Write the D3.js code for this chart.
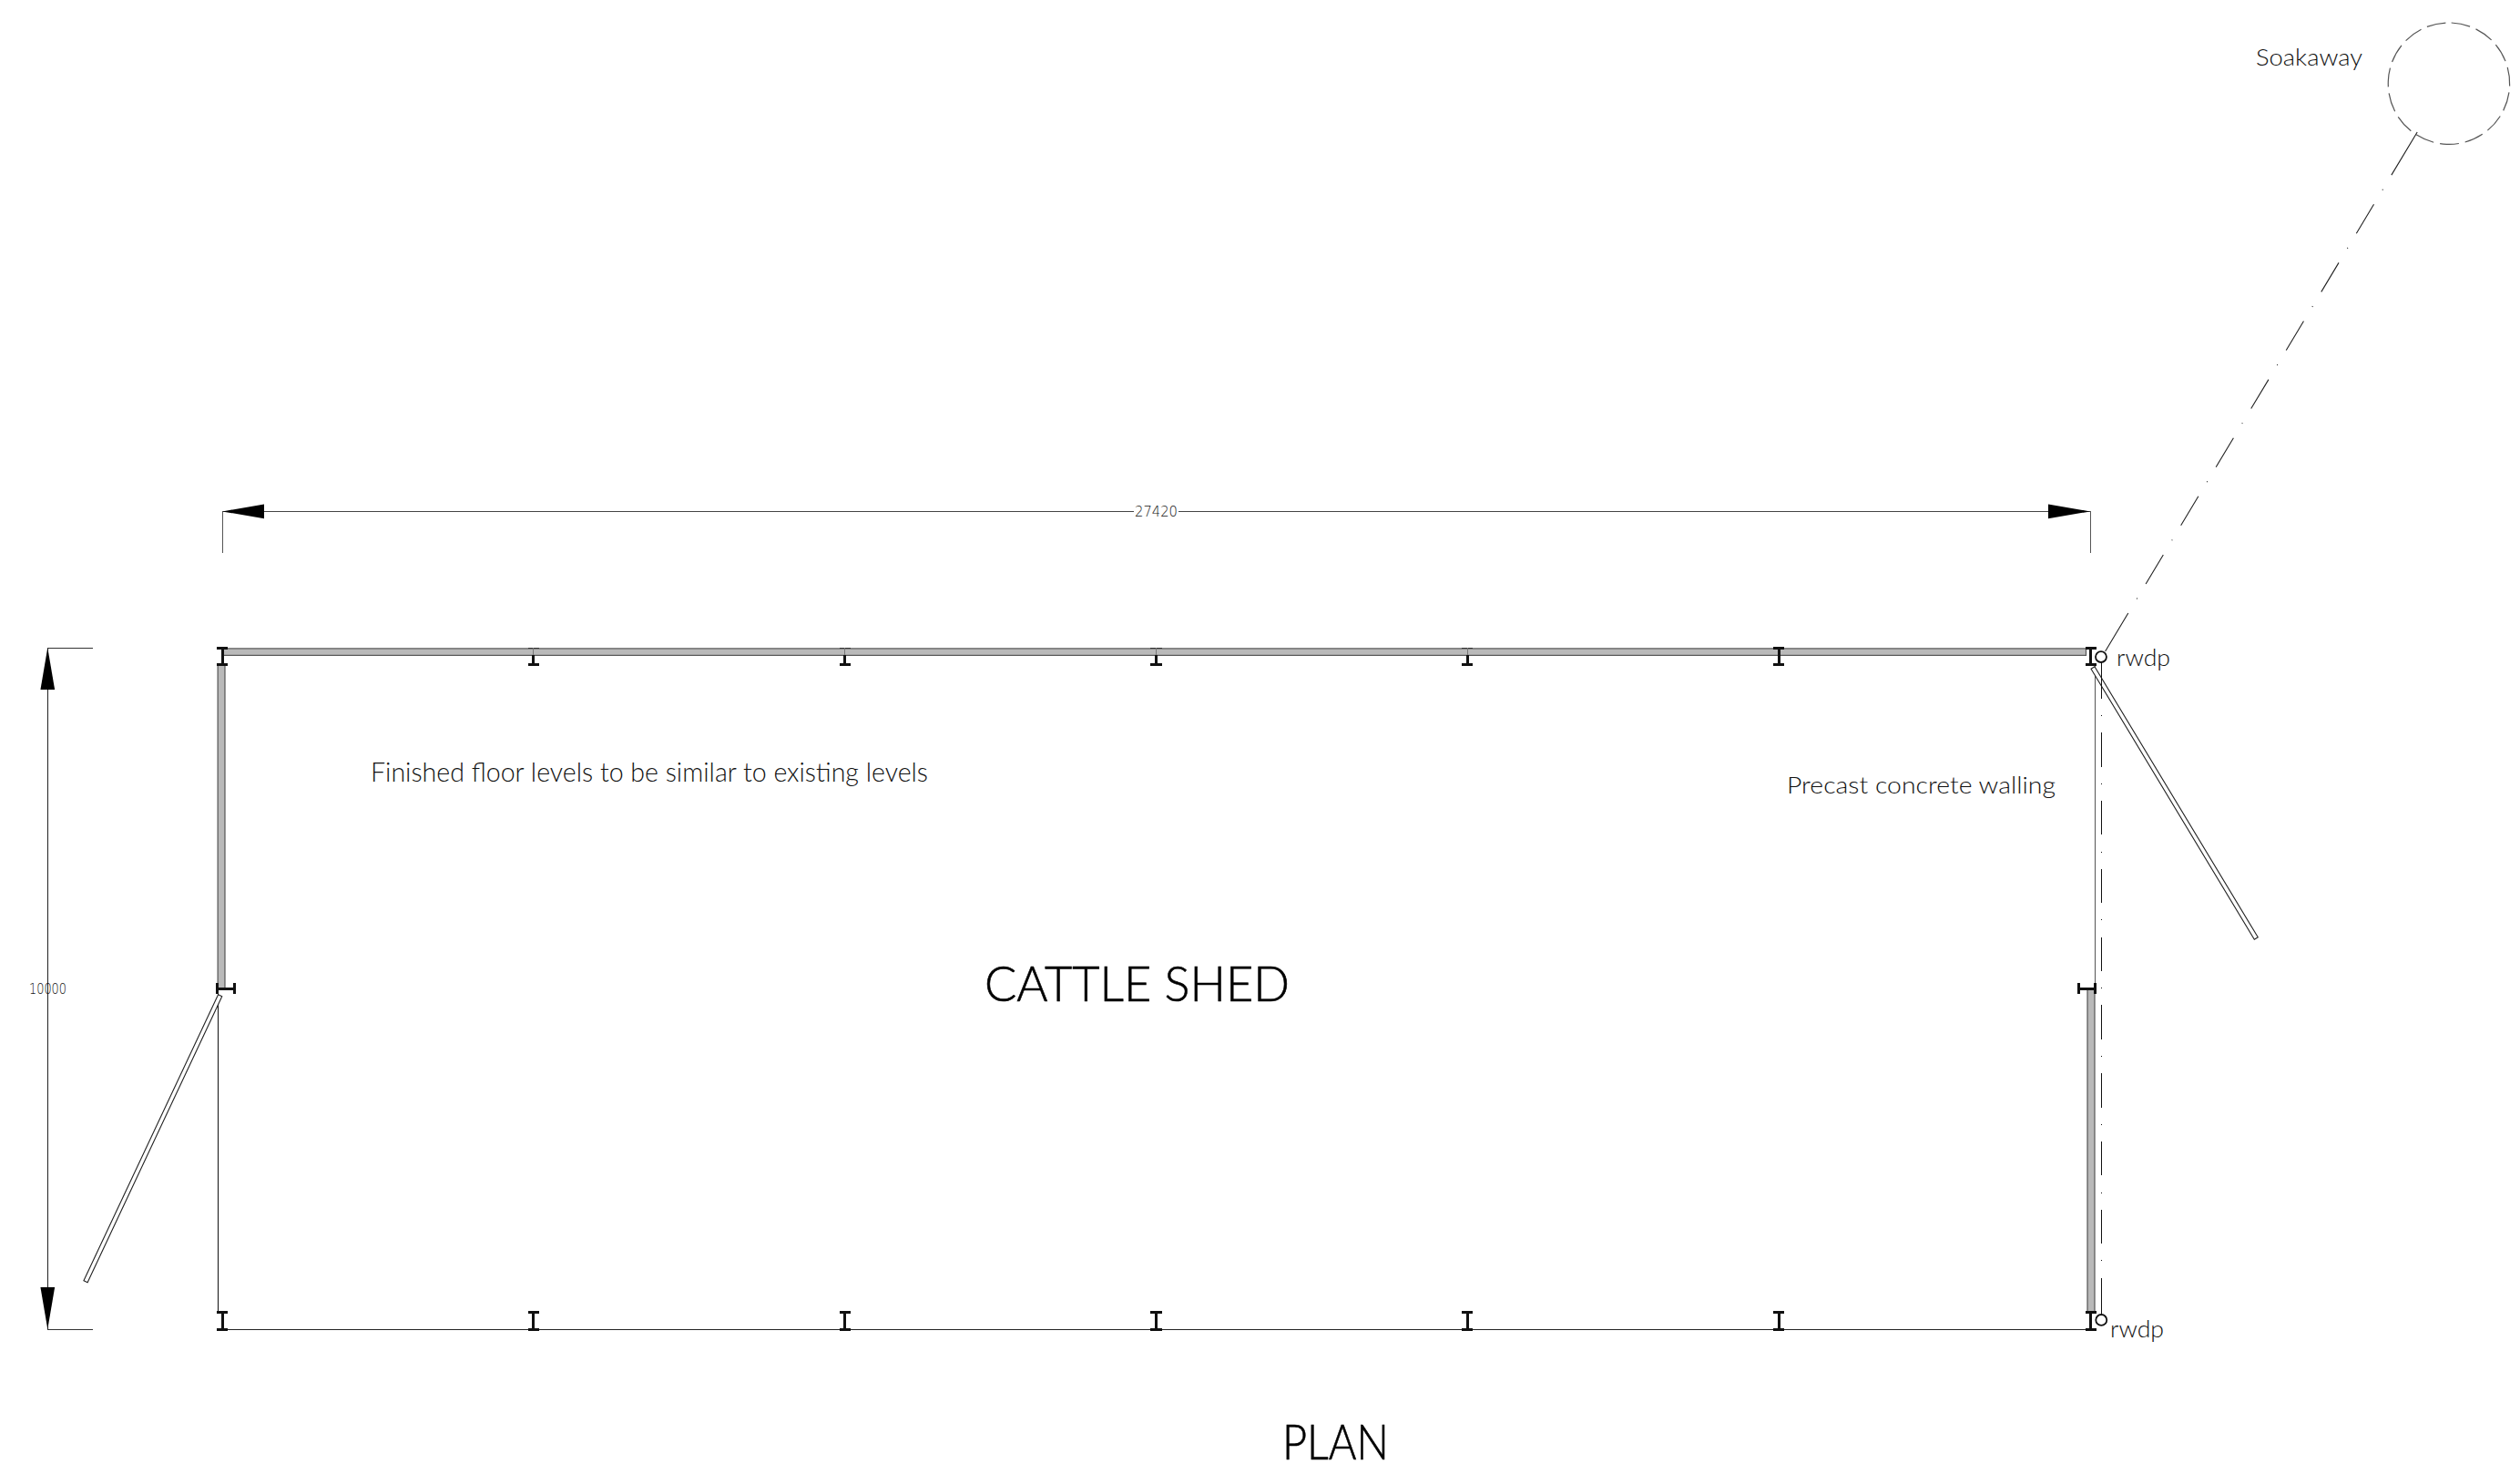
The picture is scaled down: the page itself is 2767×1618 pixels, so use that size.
<!DOCTYPE html>
<html>
<head>
<meta charset="utf-8">
<title>Cattle shed plan</title>
<script src="https://cdn.jsdelivr.net/npm/d3@7"></script>
<style>
  html, body { margin: 0; background: #fff; }
  svg { display: block; }
  text { font-family: Lato, "Open Sans", sans-serif; font-weight: 300; fill: #111; }
  .dim { font-family: "DejaVu Sans", sans-serif; font-weight: 200; fill: #111; }
  .title { fill: #000; stroke: #000; stroke-width: 0.6; }
</style>
</head>
<body>
<script>
// all plan geometry in millimetres, same as the drawing
var shedLength = 27420, shedWidth = 10000
var bayColumns = [0, 4570, 9140, 13710, 18280, 22850, 27420]
var columnsThinFlange = [4570, 9140, 13710, 18280]
var sideColumnY = 5000
var sectionDepth = 254, flangeHalf = 82

var gates = [
  [[-31, 5103], [-2005, 9302]],
  [[27460, 294], [29857, 4265]]
]
var downpipes = [[27580, 134], [27584, 9866]]
var soakaway = { x: 32687, y: -8280, r: 892 }
var labels = [
  { text: 'CATTLE SHED', x: 1081, y: 1099, size: 53, len: 335, cls: 'title' },
  { text: 'PLAN', x: 1408, y: 1601.5, size: 53, len: 117, cls: 'title' },
  { text: 'Finished floor levels to be similar to existing levels', x: 407, y: 858, size: 30, len: 612 },
  { text: 'Precast concrete walling', x: 1962, y: 871, size: 25, len: 295 },
  { text: 'Soakaway', x: 2477, y: 71.5, size: 25, len: 117 },
  { text: 'rwdp', x: 2324, y: 731, size: 26, len: 59 },
  { text: 'rwdp', x: 2317, y: 1468, size: 26, len: 59 }
]

var width = 2767, height = 1618

var x = d3.scaleLinear().domain([0, shedLength]).range([244, 2295])
var y = d3.scaleLinear().domain([0, shedWidth]).range([711, 1459])
var k = (x(1000) - x(0)) / 1000

var svg = d3.select('body').append('svg')
    .attr('width', width)
    .attr('height', height)
    .attr('viewBox', [0, 0, width, height])

var line = (g, x1, y1, x2, y2, w, color) => g.append('line')
    .attr('x1', x(x1)).attr('y1', y(y1))
    .attr('x2', x(x2)).attr('y2', y(y2))
    .attr('stroke', color || '#222')
    .attr('stroke-width', w || 1)
    .attr('shape-rendering', x1 === x2 || y1 === y2 ? 'crispEdges' : null)

var poly = d3.line().x((p) => x(p[0])).y((p) => y(p[1]))

// ---- dimensions
var dims = svg.append('g')
var dimY = -2000, dimX = -2563, extEnd = -1390, extX = -1898, arrowLen = 615, arrowHalf = 105

line(dims, 0, dimY, shedLength, dimY, 1, '#444')
line(dims, 0, dimY, 0, extEnd, 1, '#555')
line(dims, shedLength, dimY, shedLength, extEnd, 1, '#555')
line(dims, dimX, 0, dimX, shedWidth, 1, '#222')
line(dims, dimX, 0, extX, 0, 1, '#333')
line(dims, dimX, shedWidth, extX, shedWidth, 1, '#333')

var arrows = [
  [[0, dimY], [arrowLen, dimY - arrowHalf], [arrowLen, dimY + arrowHalf]],
  [[shedLength, dimY], [shedLength - arrowLen, dimY - arrowHalf], [shedLength - arrowLen, dimY + arrowHalf]],
  [[dimX, 0], [dimX - arrowHalf, arrowLen], [dimX + arrowHalf, arrowLen]],
  [[dimX, shedWidth], [dimX - arrowHalf, shedWidth - arrowLen], [dimX + arrowHalf, shedWidth - arrowLen]]
]
dims.selectAll('path').data(arrows).join('path')
    .attr('d', (a) => poly(a) + 'Z')
    .attr('fill', '#000')

dims.append('rect')
    .attr('x', 1245).attr('y', 553).attr('width', 49).attr('height', 16)
    .attr('fill', '#fff')
dims.append('text').attr('class', 'dim')
    .attr('x', 1246).attr('y', 567)
    .attr('font-size', 15).attr('textLength', 47).attr('lengthAdjust', 'spacingAndGlyphs')
    .text(String(shedLength))
dims.append('text').attr('class', 'dim')
    .attr('x', 32).attr('y', 1091)
    .attr('font-size', 15).attr('textLength', 41).attr('lengthAdjust', 'spacingAndGlyphs')
    .text(String(shedWidth))

// ---- walls
var walls = svg.append('g')
var wallRects = [
  { x0: 10, x1: 27360, y0: 12, y1: 112 },
  { x0: -65, x1: 40, y0: sectionDepth, y1: sideColumnY },
  { x0: 27380, x1: 27487, y0: sideColumnY, y1: 9746 }
]
walls.selectAll('rect').data(wallRects).join('rect')
    .attr('x', (d) => x(d.x0))
    .attr('y', (d) => y(d.y0))
    .attr('width', (d) => x(d.x1) - x(d.x0))
    .attr('height', (d) => y(d.y1) - y(d.y0))
    .attr('fill', '#b9b9b9')
    .attr('stroke', '#555')
    .attr('stroke-width', 1.2)

line(walls, 0, shedWidth, shedLength, shedWidth, 1, '#222')
line(walls, -63, sideColumnY, -63, 9746, 1, '#111')
line(walls, 27487, sectionDepth, 27487, sideColumnY, 1, '#555')

// ---- gates, two thin lines with a white gap
var gateWidth = 4.6
svg.append('g').selectAll('path').data(gates).join('path')
    .attr('d', (g) => {
      var ax = x(g[0][0]), ay = y(g[0][1]), bx = x(g[1][0]), by = y(g[1][1])
      var l = Math.hypot(bx - ax, by - ay)
      var nx = -(by - ay) / l * gateWidth / 2, ny = (bx - ax) / l * gateWidth / 2
      return 'M' + [ax + nx, ay + ny] + 'L' + [bx + nx, by + ny] +
        'L' + [bx - nx, by - ny] + 'L' + [ax - nx, ay - ny] + 'Z'
    })
    .attr('fill', '#fff')
    .attr('stroke', '#222')
    .attr('stroke-width', 1.1)

// ---- steel columns
var columns = svg.append('g')
bayColumns.forEach((c) => {
  var thin = columnsThinFlange.indexOf(c) >= 0
  var cx = c === shedLength ? c + 10 : c
  // top row
  line(columns, cx - flangeHalf, 0, cx + flangeHalf, 0, thin ? 1 : 3, thin ? '#333' : '#111')
  line(columns, cx - flangeHalf, sectionDepth, cx + flangeHalf, sectionDepth, 3, '#111')
  line(columns, cx, thin ? 112 : 0, cx, sectionDepth, 3, '#111')
  if (thin) line(columns, cx, 0, cx, 112, 1, '#777')
  // bottom row
  line(columns, cx - flangeHalf, shedWidth - sectionDepth, cx + flangeHalf, shedWidth - sectionDepth, 3, '#111')
  line(columns, cx - flangeHalf, shedWidth, cx + flangeHalf, shedWidth, 3, '#111')
  line(columns, cx, shedWidth - sectionDepth, cx, shedWidth, 3, '#111')
})
// the two side columns lie on their side
;[[-67, 187], [27247, 27487]].forEach((s) => {
  line(columns, s[0], sideColumnY - flangeHalf, s[0], sideColumnY + flangeHalf, 3, '#111')
  line(columns, s[1], sideColumnY - flangeHalf, s[1], sideColumnY + flangeHalf, 3, '#111')
  line(columns, s[0], sideColumnY, s[1], sideColumnY, 3, '#111')
})

// ---- drainage
var drains = svg.append('g')
// centre line linetype: long end dash, then dot / dash repeats, long end dash
var centreLine = (first, dots) => {
  var dash = 37.3, gap = 18.25, dot = 1, out = [first]
  for (var i = 0; i < dots; ++i) {
    out.push(gap, dot, gap)
    out.push(i < dots - 1 ? dash : 2000)
  }
  return out.join(' ')
}
line(drains, 27586, 214, 27586, 9786, 1, '#111')
    .attr('stroke-dasharray', centreLine(39.7, 9))
line(drains, 27642, 53, 32222, -7567, 1.1, '#222')
    .attr('stroke-dasharray', centreLine(48.9, 8))

drains.selectAll('circle').data(downpipes).join('circle')
    .attr('cx', (d) => x(d[0]))
    .attr('cy', (d) => y(d[1]))
    .attr('r', 80 * k)
    .attr('fill', '#fff')
    .attr('stroke', '#111')
    .attr('stroke-width', 1.8)

var ring = d3.path()
var ringStart = -Math.PI / 2 + 0.04
ring.arc(x(soakaway.x), y(soakaway.y), soakaway.r * k, ringStart, ringStart + 2 * Math.PI)
var ringStep = 2 * Math.PI * soakaway.r * k / 15
drains.append('path')
    .attr('d', ring.toString())
    .attr('fill', 'none')
    .attr('stroke', '#555')
    .attr('stroke-width', 1.2)
    .attr('stroke-dasharray', (ringStep * 0.75) + ' ' + (ringStep * 0.25))

// ---- notes
svg.append('g').selectAll('text').data(labels).join('text')
    .attr('class', (d) => d.cls || null)
    .attr('x', (d) => d.x)
    .attr('y', (d) => d.y)
    .attr('font-size', (d) => d.size)
    .attr('textLength', (d) => d.len)
    .attr('lengthAdjust', 'spacingAndGlyphs')
    .text((d) => d.text)
</script>
</body>
</html>
